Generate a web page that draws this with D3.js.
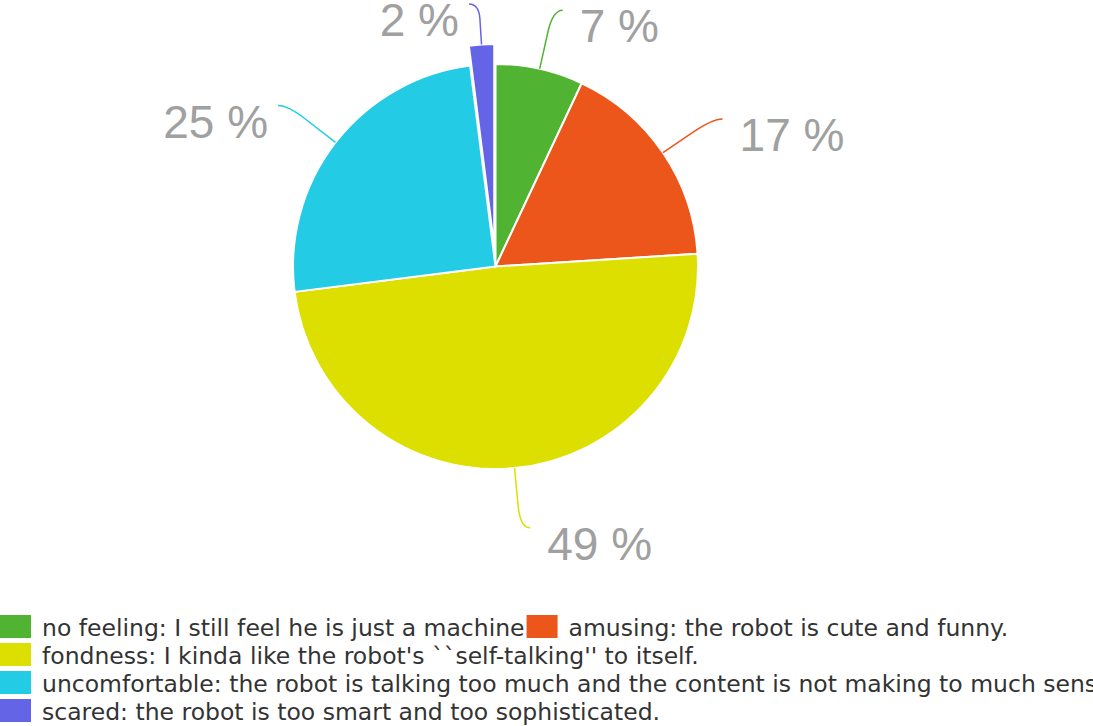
<!DOCTYPE html>
<html>
<head>
<meta charset="utf-8">
<script src="https://cdn.jsdelivr.net/npm/d3@7"></script>
<style>
  body { margin: 0; background: #fff; overflow: hidden; }
  svg { display: block; }
</style>
</head>
<body>
<div id="chart"></div>
<script>
// data
const categories = [
  "no feeling: I still feel he is just a machine",
  "amusing: the robot is cute and funny.",
  "fondness: I kinda like the robot's ``self-talking'' to itself.",
  "uncomfortable: the robot is talking too much and the content is not making to much sense.",
  "scared: the robot is too smart and too sophisticated."
];
const percents = [7, 17, 49, 25, 2];
const colors = ["#50B432", "#ED561B", "#DDDF00", "#24CBE5", "#6464E6"];
const exploded = [false, false, false, false, true];

var width = 1093,
    height = 726;

var svg = d3.select("#chart").append("svg")
  .attr("width", width)
  .attr("height", height);

const cx = 495.5, cy = 266.5, radius = 202.5;
const explodeOffset = 20;

const pie = d3.pie().sort(null).value(d => d.value);
const arc = d3.arc().innerRadius(0).outerRadius(radius);

const slices = pie(percents.map((v, i) => ({value: v, i: i})));

var g = svg.append("g").attr("transform", "translate(" + cx + "," + cy + ")");

function offsetOf(d) {
  if (!exploded[d.data.i]) return [0, 0];
  var a = (d.startAngle + d.endAngle) / 2;
  return [Math.sin(a) * explodeOffset, -Math.cos(a) * explodeOffset];
}

g.selectAll("path.slice")
  .data(slices)
  .join("path")
    .attr("class", "slice")
    .attr("d", arc)
    .attr("transform", d => "translate(" + offsetOf(d) + ")")
    .attr("fill", d => colors[d.data.i])
    .attr("stroke", "#fff")
    .attr("stroke-width", 2)
    .attr("stroke-linejoin", "round");

// label lines + labels
const minTop = 4; // labels are kept inside the top of the chart
slices.forEach(function(d) {
  var a = (d.startAngle + d.endAngle) / 2;
  var s = Math.sin(a), c = Math.cos(a);
  var o = offsetOf(d);
  var elbowLen = radius + 60;
  // clamp so the elbow does not go past the top
  var elbowY = cy + o[1] - c * elbowLen;
  if (elbowY < minTop && c > 0) elbowLen = (cy + o[1] - minTop) / c;
  var midLen = radius + (elbowLen - radius) * 0.63;
  var p0 = [o[0] + s * radius, o[1] - c * radius];
  var p1 = [o[0] + s * midLen, o[1] - c * midLen];
  var p2 = [o[0] + s * elbowLen, o[1] - c * elbowLen];
  var right = s >= 0;
  var p3 = [p2[0] + (right ? 10 : -10), p2[1]];

  g.append("path")
    .attr("d", "M" + p0 + "L" + p1 + "Q" + p2 + " " + p3)
    .attr("fill", "none")
    .attr("stroke", colors[d.data.i])
    .attr("stroke-width", 1.5);

  g.append("text")
    .attr("x", p3[0] + (right ? 17 : -10))
    .attr("y", p3[1] + 32)
    .attr("text-anchor", right ? "start" : "end")
    .style("font-family", "'Liberation Sans', Arial, sans-serif")
    .style("font-size", "46px")
    .attr("fill", "#a0a0a0")
    .text(d.data.value + " %");
});

// legend
var legend = svg.append("g").attr("class", "legend");
const swW = 31, swH = 23, gap = 11, rowH = 28, legendTop = 615;
var lx = 0, row = 0;
categories.forEach(function(name, i) {
  var item = legend.append("g");
  var t = item.append("text")
    .attr("x", swW + gap)
    .attr("y", 21)
    .style("font-family", "'DejaVu Sans', sans-serif")
    .style("font-size", "23.5px")
    .attr("fill", "#333")
    .text(name);
  var w = swW + gap + t.node().getComputedTextLength();
  if (lx > 0 && lx + w > width) { lx = 0; row++; }
  item.append("rect")
    .attr("width", swW)
    .attr("height", swH)
    .attr("fill", colors[i]);
  item.attr("transform", "translate(" + lx + "," + (legendTop + row * rowH) + ")");
  lx += w + 2;
});
</script>
</body>
</html>
